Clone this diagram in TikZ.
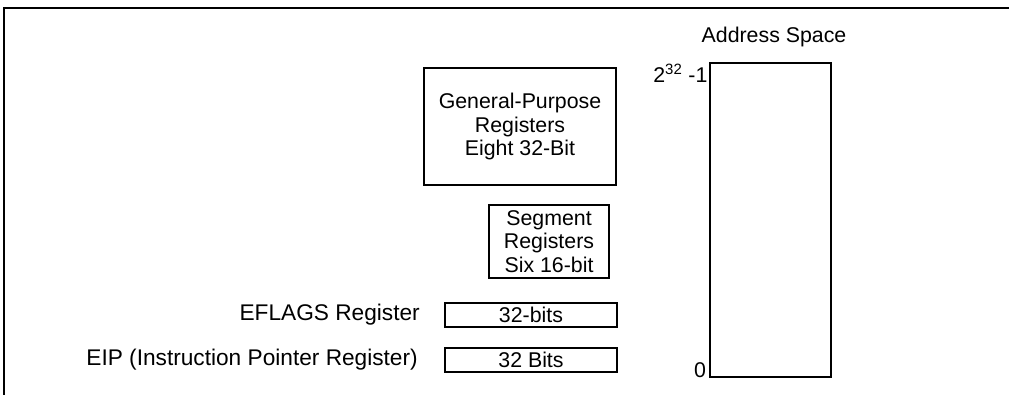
\documentclass[tikz,border=0pt]{standalone}
\usepackage{fontspec}
\setmainfont{Liberation Sans}
\usetikzlibrary{positioning}
\tikzset{
  reg/.style={draw, line width=1.5pt, inner sep=0pt, align=center},
  lbl/.style={inner sep=0pt, align=center},
  sidelbl/.style={lbl, font=\fontsize{17}{19}\selectfont},
  frameline/.style={line width=1.5pt}
}

\begin{document}
\begin{tikzpicture}[x=0.75pt, y=-0.75pt, font=\fontsize{16}{17.6}\selectfont]
  \useasboundingbox (0,0) rectangle (1009,395);
  % outer frame (top and left edge only)
  \draw[frameline] (1009,8) -- (4,8) -- (4,395);
  % register boxes
  \node[reg, minimum width=192*0.75pt, minimum height=117*0.75pt] (gpr) at (520,126.5)
    {General-Purpose\\Registers\\Eight 32-Bit};
  \node[reg, minimum width=120*0.75pt, minimum height=73*0.75pt] (seg) at (549,241.5)
    {Segment\\Registers\\Six 16-bit};
  \node[reg, minimum width=172*0.75pt, minimum height=24*0.75pt] (eflags) at (531,315) {32-bits};
  \node[reg, minimum width=172*0.75pt, minimum height=24*0.75pt] (eip) at (531,360) {32 Bits};
  \node[sidelbl, left=24*0.75pt of eflags] (eflagslbl) {EFLAGS Register};
  \node[sidelbl, left=26*0.75pt of eip] (eiplbl) {EIP (Instruction Pointer Register)};
  % address space
  \node[reg, minimum width=121*0.75pt, minimum height=314*0.75pt] (addr) at (770.5,220) {};
  \node[lbl] (addrlbl) at (774,37) {Address Space};
  \node[lbl, anchor=north east] (top) at ([xshift=-1pt, yshift=-1pt]addr.north west) {2\textsuperscript{32} -1};
  \node[lbl, anchor=south east] (zero) at ([xshift=-2pt]addr.south west) {0};
\end{tikzpicture}
\end{document}
